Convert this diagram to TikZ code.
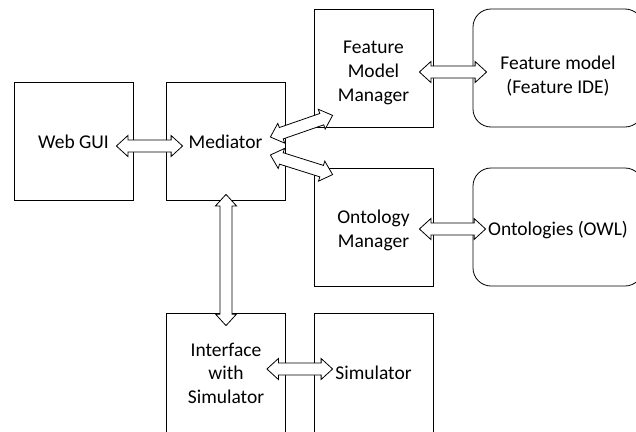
\documentclass[tikz,border=0pt]{standalone}
\usepackage{fontspec}
\setmainfont{Carlito}
\usetikzlibrary{calc}

% Hollow two-headed block arrow between two points
\newcommand\twoway[2]{%
  \draw[twowayline] let \p1=(#1), \p2=(#2),
      \n1={atan2(\y2-\y1,\x2-\x1)}, \n3={\n1+90}, \n4={\n1-90} in
    (\p1)
    -- ($(\p1)+(\n1:\headlen)+(\n3:\headhalf)$)
    -- ($(\p1)+(\n1:\headlen)+(\n3:\shafthalf)$)
    -- ($(\p2)+(\n1:-\headlen)+(\n3:\shafthalf)$)
    -- ($(\p2)+(\n1:-\headlen)+(\n3:\headhalf)$)
    -- (\p2)
    -- ($(\p2)+(\n1:-\headlen)+(\n4:\headhalf)$)
    -- ($(\p2)+(\n1:-\headlen)+(\n4:\shafthalf)$)
    -- ($(\p1)+(\n1:\headlen)+(\n4:\shafthalf)$)
    -- ($(\p1)+(\n1:\headlen)+(\n4:\headhalf)$)
    -- cycle;}
\newcommand\headlen{11.5pt}
\newcommand\headhalf{10.5pt}
\newcommand\shafthalf{6pt}

% Centred lines of a label, shifted down by the optional amount
% while the node keeps centring the unshifted box
\newcommand\boxtext[2][0pt]{\raisebox{-#1}[\height][\depth]{\begin{tabular}{@{}c@{}}#2\end{tabular}}}

\tikzset{
  block/.style={draw, line width=0.8pt, minimum width=119pt, minimum height=118pt,
    inner sep=0pt, font=\fontsize{19.5}{23.7}\selectfont},
  store/.style={block, rounded corners=18pt, minimum width=170pt},
  twowayline/.style={draw, fill=white, line width=0.8pt, line join=miter},
}

\begin{document}
\begin{tikzpicture}[x=1pt, y=-1pt]
  \useasboundingbox (0,0) rectangle (636,431);
  \fill[white] (0,0) rectangle (636,431);
  \clip (0,0) rectangle (636,431);

  % components
  \node[block] (web)  at (73.5,141)  {\boxtext[2.5pt]{Web GUI}};
  \node[block] (med)  at (225.5,141) {\boxtext[2.5pt]{Mediator}};
  \node[block] (fmm)  at (373.5,68)  {\boxtext[4.7pt]{Feature\\Model\\Manager}};
  \node[store] (fm)   at (558,68)    {\boxtext[8.5pt]{Feature model\\(Feature IDE)}};
  \node[block] (om)   at (373.5,227) {\boxtext[3.7pt]{Ontology\\Manager}};
  \node[store] (onto) at (558,227)   {\boxtext[4.2pt]{Ontologies (OWL)}};
  \node[block, minimum height=120pt] (iws) at (226,373) {\boxtext[2.2pt]{Interface\\with\\Simulator}};
  \node[block, minimum height=120pt] (sim) at (373.5,373) {\boxtext[1.5pt]{Simulator}};

  % links
  \twoway{$(web.east)+(-17,5)$}{$(med.west)+(17,5)$}
  \twoway{$(fmm.east)+(-14,4)$}{$(fm.west)+(14,4)$}
  \twoway{$(om.east)+(-14,2)$}{$(onto.west)+(13,2)$}
  \twoway{$(iws.east)+(-19,-4)$}{$(sim.west)+(19,-4)$}
  \twoway{$(med.south)+(0.5,-6)$}{$(iws.north)+(0,13)$}
  \twoway{$(med.east)+(-15,-4)$}{$(fmm.south west)+(19,-12)$}
  \twoway{$(med.east)+(-15,14)$}{$(om.north west)+(19,7)$}
\end{tikzpicture}
\end{document}
